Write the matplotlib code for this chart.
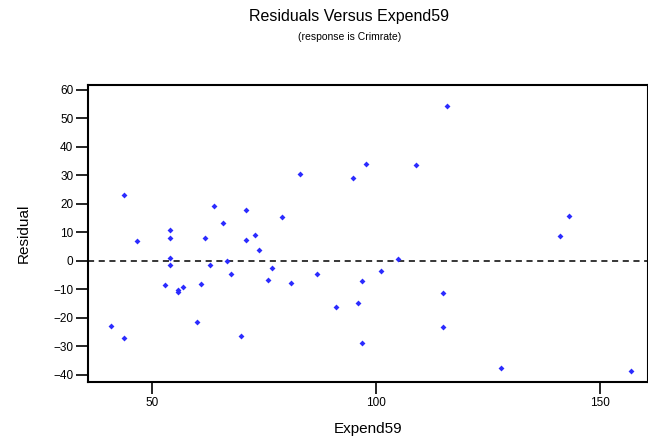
import matplotlib.pyplot as plt

# Expend59 against the residuals of the Crimrate fit
expend59 = [43.9, 41.0, 43.9, 46.8, 54.0, 54.0, 54.0, 54.0, 52.9, 55.8,
            56.0, 56.9, 60.1, 61.0, 62.0, 63.0, 64.0, 65.9, 66.9, 67.8,
            70.0, 71.1, 71.1, 73.0, 74.0, 76.9, 75.9, 79.1, 81.1, 83.1,
            86.9, 91.2, 95.0, 96.0, 97.0, 97.0, 97.9, 101.2, 105.1, 109.0,
            115.1, 115.1, 116.0, 128.0, 141.2, 143.2, 157.1]
residual = [23.3, -22.9, -27.0, 7.1, 10.7, 8.1, 1.0, -1.6, -8.6, -10.2,
            -10.8, -9.2, -21.3, -8.1, 8.1, -1.6, 19.2, 13.2, -0.1, -4.6,
            -26.5, 17.7, 7.5, 9.2, 4.0, -2.5, -6.6, 15.3, -7.7, 30.6,
            -4.6, -16.3, 29.1, -14.8, -7.1, -28.9, 34.1, -3.6, 0.5, 33.6,
            -11.2, -23.3, 54.3, -37.6, 8.6, 15.7, -38.7]

plt.rcParams['font.family'] = ['Liberation Sans', 'DejaVu Sans']

fig = plt.figure(figsize=(6.48, 4.41), dpi=100)
ax = fig.add_axes([0.1358, 0.1338, 0.8642, 0.6735])

ax.scatter(expend59, residual, marker='D', s=9, color='#2b2bff', linewidths=0, zorder=3)
ax.axhline(0, color='black', linestyle=(0, (4, 3)), linewidth=1.1)

ax.set_xlim(35.8, 160.8)
ax.set_ylim(-42.5, 61.75)
ax.set_xticks([50, 100, 150])
ax.set_yticks(range(-40, 61, 10))

for side in ax.spines.values():
    side.set_linewidth(1.5)
ax.tick_params(direction='out', length=8.5, width=1.2, labelsize=8.5, pad=2)

ax.set_xlabel('Expend59', fontsize=11, labelpad=10)
ax.set_ylabel('Residual', fontsize=11, labelpad=16)

fig.text(0.539, 0.962, 'Residuals Versus Expend59', ha='center', va='center', fontsize=11.5)
fig.text(0.539, 0.917, '(response is Crimrate)', ha='center', va='center', fontsize=7.5)

fig.savefig('out.png', dpi=100)
